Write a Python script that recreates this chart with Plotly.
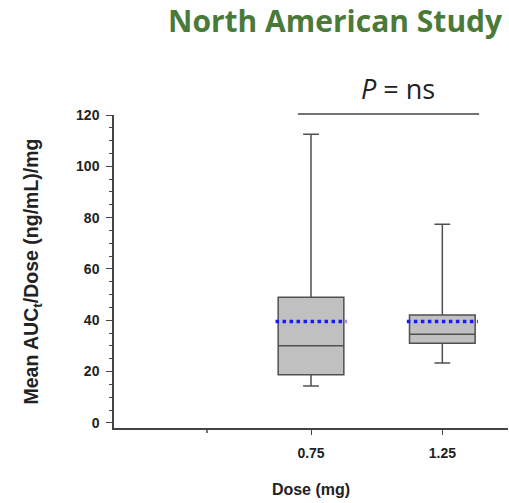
import plotly.graph_objects as go

doses = ["0.75", "1.25"]
dose_vals = [0.75, 1.25]
q1 = [18.8, 31.0]
median = [30.1, 34.5]
q3 = [49.0, 42.0]
lower = [14.4, 23.3]
upper = [112.5, 77.4]
means = [39.5, 39.5]

x_max = 1.5
fig = go.Figure()
box_w = 0.25
for i in range(len(doses)):
    fig.add_trace(go.Box(
        x=[dose_vals[i]], q1=[q1[i]], median=[median[i]], q3=[q3[i]],
        lowerfence=[lower[i]], upperfence=[upper[i]],
        width=box_w, whiskerwidth=0.24, boxpoints=False,
        fillcolor="#c0c0c0", line=dict(color="#505050", width=1.5),
        showlegend=False, hoverinfo="skip"))
    fig.add_trace(go.Scatter(
        x=[dose_vals[i] - box_w / 2 - 0.01, dose_vals[i] + box_w / 2 + 0.01],
        y=[means[i], means[i]], mode="lines",
        line=dict(color="#1a1aff", width=3.5, dash="dot"),
        showlegend=False, hoverinfo="skip"))

# significance bar (above the plot area top)
fig.add_shape(type="line", x0=0.70 / x_max, x1=1.39 / x_max, y0=1.003, y1=1.003,
              xref="paper", yref="paper", line=dict(color="#444444", width=1.5))
# unlabeled tick on the x axis
fig.add_shape(type="line", x0=0.354, x1=0.354, y0=0, y1=-5, xref="x", yref="paper",
              ysizemode="pixel", yanchor=0,
              line=dict(color="#444444", width=1.5))
fig.add_annotation(text="<i>P</i> = ns", x=1.08, y=1, xref="x", yref="paper",
                   yanchor="bottom", yshift=6, showarrow=False,
                   font=dict(family="Open Sans", size=27, color="#222222"))
fig.add_annotation(text="<b>North American Study</b>", x=1, xref="paper",
                   xanchor="right", xshift=-3, y=1, yref="paper", yanchor="middle",
                   yshift=95, showarrow=False,
                   font=dict(family="Open Sans", size=30, color="#4a7a3a"))

fig.update_layout(
    width=509, height=503, plot_bgcolor="white", paper_bgcolor="white",
    margin=dict(l=114, r=1, t=115, b=75),
    font=dict(family="Liberation Sans, Arial", color="#222222"),
)

fig.update_xaxes(
    range=[0, x_max], tickvals=[0.75, 1.25], ticktext=["0.75", "1.25"],
    ticks="outside", ticklen=5, tickcolor="#444444", showline=True, linecolor="#444444",
    linewidth=1.5, showgrid=False, zeroline=False,
    tickfont=dict(size=14, weight="bold"), ticklabelstandoff=6,
    title=dict(text="<b>Dose (mg)</b>", font=dict(size=16), standoff=24))
fig.update_yaxes(
    range=[-2, 120], tickvals=[0, 20, 40, 60, 80, 100, 120],
    ticks="outside", ticklen=6, tickcolor="#444444", showline=True, linecolor="#444444",
    linewidth=1.5, showgrid=False, zeroline=False,
    tickfont=dict(size=14, weight="bold"), ticklabelstandoff=4,
    minor=dict(dtick=5, ticks="outside", ticklen=3, tickcolor="#444444"),
    title=dict(text="<b>Mean AUC<sub>t</sub>/Dose (ng/mL)/mg</b>", font=dict(size=19.5), standoff=32))

fig.write_html("out.html", config={"displayModeBar": False},
               post_script="document.body.style.margin='0';document.body.style.overflow='hidden';")
